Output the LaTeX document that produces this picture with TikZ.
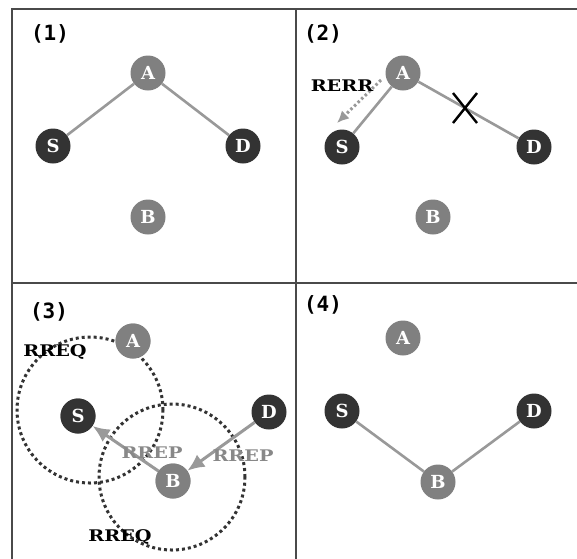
\documentclass[tikz,border=0pt]{standalone}
\usepackage{fontspec}
\setmainfont{DejaVu Serif}
\newfontfamily\msgfont[FakeStretch=1.2]{DejaVu Serif}
\newfontfamily\panelfont{DejaVu Sans Mono}
\usepackage{tikz}
\usetikzlibrary{arrows.meta}
\usetikzlibrary{positioning}
\tikzset{>=latex}
\definecolor{darknode}{HTML}{333333}
\definecolor{graynode}{HTML}{808080}
\definecolor{linkgray}{HTML}{999999}
\definecolor{framegray}{HTML}{4A4A4A}
\definecolor{msggray}{HTML}{888888}
\tikzset{
  endnode/.style={circle, fill=darknode, text=white, minimum size=35pt, inner sep=0pt,
    font=\fontsize{18}{18}\selectfont\bfseries},
  relaynode/.style={endnode, fill=graynode},
  link/.style={draw=linkgray, line width=2.6pt},
  reparrow/.style={draw=linkgray, line width=3pt, -{Latex[length=17pt,width=15pt]}},
  errarrow/.style={draw=linkgray, line width=3pt, dash pattern=on 2.5pt off 2.5pt,
    -{Latex[length=12pt,width=11pt]}},
  reqrange/.style={draw=darknode, line width=3pt, dash pattern=on 3pt off 3pt},
  cutmark/.style={draw=black, line width=2.4pt},
  framebox/.style={draw=framegray, line width=2pt},
  panellabel/.style={font=\panelfont\fontsize{21}{21}\selectfont\bfseries},
  msglabel/.style={font=\msgfont\fontsize{16}{16}\selectfont\bfseries},
}
\begin{document}
\begin{tikzpicture}[x=1pt, y=-1pt]
  \useasboundingbox (0,0) rectangle (577,558);
  \fill[white] (0,0) rectangle (577,558);

  \draw[framebox] (12,600) -- (12,9) -- (600,9);
  \draw[framebox] (296,9) -- (296,600);
  \draw[framebox] (12,283) -- (600,283);

  % (1)
  \node[panellabel] (p1) at (50,34) {(1)};
  \node[relaynode] (A1) at (148,73) {A};
  \node[endnode] (S1) at (53,146) {S};
  \node[endnode] (D1) at (243,146) {D};
  \node[relaynode] (B1) at (148,217) {B};
  \draw[link] (S1) -- (A1) -- (D1);

  % (2)
  \node[panellabel] (p2) at (323,34) {(2)};
  \node[relaynode] (A2) at (403,73) {A};
  \node[endnode] (S2) at (342,147) {S};
  \node[endnode] (D2) at (534,147) {D};
  \node[relaynode] (B2) at (433,217) {B};
  \draw[link] (S2) -- (A2) -- (D2);
  \coordinate (cut) at (465,108);
  \draw[cutmark] ([shift={(-12,-15)}]cut) -- ([shift={(12,15)}]cut);
  \draw[cutmark] ([shift={(12,-15)}]cut) -- ([shift={(-12,15)}]cut);
  \coordinate (errbeg) at (381,80);
  \coordinate (errend) at (337,123);
  \draw[errarrow] (errbeg) -- (errend);
  \node[msglabel] (rerr) at (342,86) {RERR};

  % (3)
  \node[panellabel] (p3) at (49,312) {(3)};
  \node[relaynode] (A3) at (133,341) {A};
  \node[endnode] (S3) at (78,416) {S};
  \node[endnode] (D3) at (269,412) {D};
  \node[relaynode] (B3) at (173,481) {B};
  \draw[reqrange] ([shift={(12,-6)}]S3) circle (73pt);
  \draw[reqrange] ([shift={(-1,-4)}]B3) circle (73pt);
  \draw[reparrow] (B3) -- (S3);
  \draw[reparrow] (D3) -- (B3);
  \node[relaynode] at (A3) {A};
  \node[endnode] at (S3) {S};
  \node[relaynode] at (B3) {B};
  \node[msglabel] (req1) at (55,352) {RREQ};
  \node[msglabel] (req2) at (120,537) {RREQ};
  \node[msglabel, text=msggray] (rep1) at (152,453) {RREP};
  \node[msglabel, text=msggray] (rep2) at (243,456) {RREP};

  % (4)
  \node[panellabel] (p4) at (323,305) {(4)};
  \node[relaynode] (A4) at (403,338) {A};
  \node[endnode] (S4) at (342,411) {S};
  \node[endnode] (D4) at (534,411) {D};
  \node[relaynode] (B4) at (438,482) {B};
  \draw[link] (S4) -- (B4) -- (D4);
\end{tikzpicture}
\end{document}
